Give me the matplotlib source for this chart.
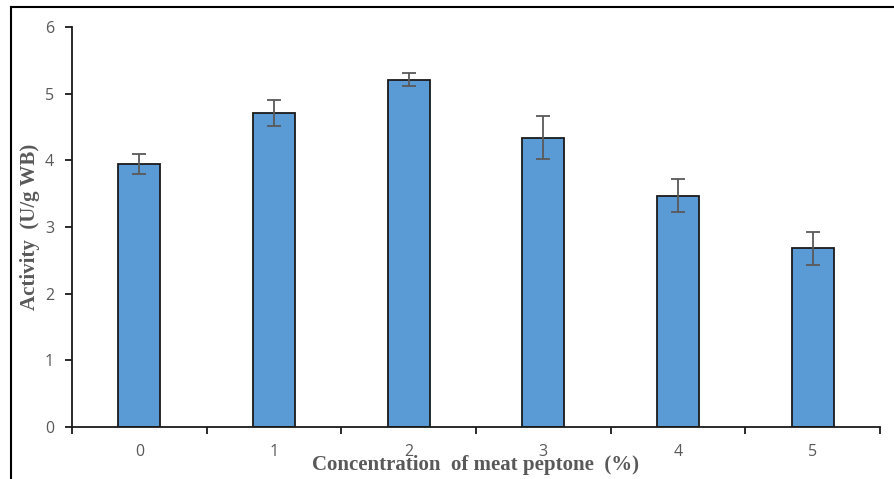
import numpy as np
import matplotlib.pyplot as plt
from matplotlib.lines import Line2D

# datos
concentracion = ["0", "1", "2", "3", "4", "5"]
actividad = [3.94, 4.71, 5.21, 4.34, 3.47, 2.68]
error = [0.15, 0.2, 0.1, 0.32, 0.25, 0.25]

fig = plt.figure(figsize=(8.95, 4.79), dpi=100)
ax = fig.add_axes([72/895, 1-427/479, 808/895, 400/479])

x = np.arange(len(concentracion))
ax.bar(x, actividad, width=0.31, color="#5B9BD5", edgecolor="#1a1a1a",
       linewidth=1.3, zorder=2)
ax.errorbar(x, actividad, yerr=error, fmt="none", ecolor="#595959",
            elinewidth=1.3, capsize=5, capthick=1.3, zorder=3)

ax.set_xlim(-0.5, len(concentracion) - 0.5)
ax.set_ylim(0, 6)
ax.set_yticks(range(0, 7))

# ticks del eje x entre categorias
ax.set_xticks(np.arange(-0.5, len(concentracion)), minor=False)
ax.set_xticklabels([])
ax.set_xticks(x, minor=True)
ax.set_xticklabels(concentracion, minor=True)
ax.tick_params(axis="x", which="minor", length=0, pad=12)
ax.tick_params(axis="x", which="major", direction="out", length=5, width=1.3,
               color="#1a1a1a")
ax.tick_params(axis="y", direction="out", length=5, width=1.3, color="#1a1a1a",
               pad=8)
for lab in ax.get_yticklabels() + ax.get_xticklabels(minor=True):
    lab.set_fontfamily("Open Sans")
    lab.set_fontsize(11.5)
    lab.set_color("#595959")

for s in ["top", "right"]:
    ax.spines[s].set_visible(False)
ax.spines["left"].set_linewidth(1.3)
ax.spines["bottom"].set_linewidth(1.3)
ax.spines["left"].set_color("#1a1a1a")
ax.spines["bottom"].set_color("#1a1a1a")

fig.text(476/895, 1-465/479, "Concentration  of meat peptone  (%)",
         ha="center", va="center", fontfamily="Liberation Serif",
         fontweight="bold", fontsize=15, color="#595959")
fig.text(30/895, 1-227/479, "Activity  (U/g WB)", rotation=90,
         ha="center", va="center", fontfamily="Liberation Serif",
         fontweight="bold", fontsize=15, color="#595959")

# marco de la imagen
fig.add_artist(Line2D([11/895, 1], [1-7/479, 1-7/479], color="black", lw=1.5))
fig.add_artist(Line2D([11/895, 11/895], [0, 1-7/479], color="black", lw=1.5))

fig.savefig("out.png", dpi=100)
